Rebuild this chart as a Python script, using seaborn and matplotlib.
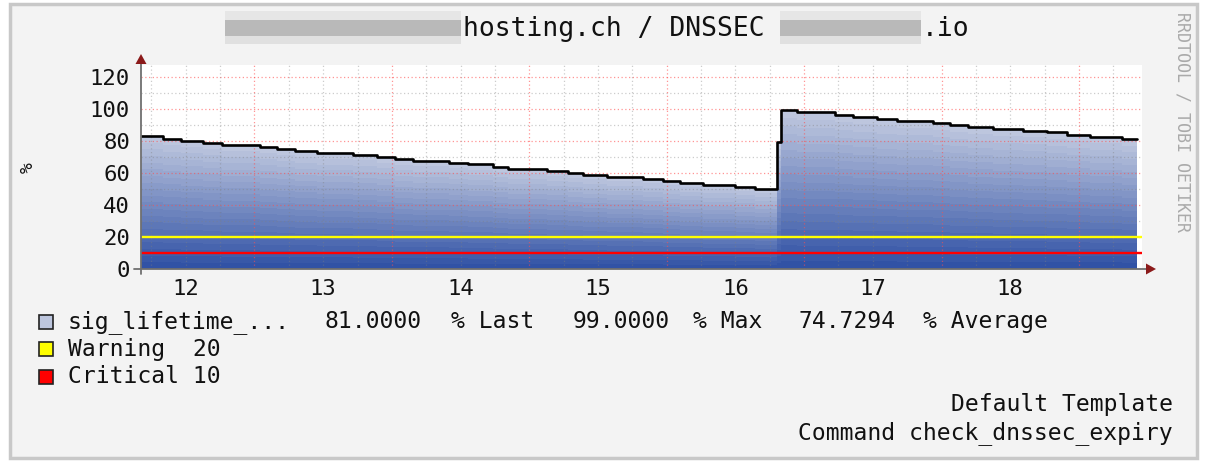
import numpy as np
import matplotlib
matplotlib.use("Agg")
import matplotlib.pyplot as plt
from matplotlib.colors import to_rgb
from matplotlib.patches import Rectangle, Polygon
from matplotlib.lines import Line2D
import seaborn as sns

# ---------------- data ----------------
step_times = [11.674, 11.834, 11.965, 12.123, 12.261, 12.540, 12.662, 12.795, 12.953,
              13.215, 13.389, 13.523, 13.656, 13.918, 14.054, 14.236, 14.345, 14.627,
              14.782, 14.891, 15.063, 15.330, 15.475, 15.597, 15.766, 15.997, 16.143,
              16.301, 16.332, 16.446, 16.725, 16.858, 17.028, 17.174, 17.440, 17.562,
              17.695, 17.877, 18.095, 18.266, 18.411, 18.581, 18.812]
end_time = 18.921
sig_lifetime = [83.0, 81.4, 80.1, 78.7, 77.6, 76.1, 74.9, 73.6, 72.4, 71.3, 69.9, 68.6,
                67.4, 66.4, 65.3, 63.8, 62.6, 61.3, 60.1, 58.8, 57.6, 56.3, 54.9, 53.7,
                52.4, 51.2, 50.1, 79.0, 99.0, 97.7, 96.4, 95.1, 93.9, 92.6, 91.4, 90.1,
                88.8, 87.6, 86.4, 85.2, 83.9, 82.6, 81.0]
warning_level = 20
critical_level = 10
x_tick_pos = [12, 13, 14, 15, 16, 17, 18]
x_tick_labels = ["12", "13", "14", "15", "16", "17", "18"]
y_tick_pos = [0, 20, 40, 60, 80, 100, 120]
legend_last = 81.0
legend_max = 99.0
legend_avg = 74.7294
series_label = "sig_lifetime_..."
title_main = "hosting.ch / DNSSEC"
title_tail = ".io"

# ---------------- figure ----------------
W, H = 1208, 470
sns.set_theme(style="white")
plt.rcParams["font.family"] = ["DejaVu Sans Mono"]
fig = plt.figure(figsize=(W / 100, H / 100), dpi=100, facecolor="white")


def fx(x):
    return x / W


def fy(y):
    return 1 - y / H


fig.patches.append(Rectangle((fx(10), fy(458)), fx(1197) - fx(10), fy(4) - fy(458),
                             transform=fig.transFigure, facecolor="#f3f3f3",
                             edgecolor="#c8c8c8", linewidth=2.5, zorder=-10))

ax = fig.add_axes([fx(141), fy(269), fx(1142) - fx(141), fy(65) - fy(269)])
ax.set_zorder(1)
ax.set_facecolor("white")
ax.set_xlim(11.674, 18.959)
ax.set_ylim(0, 127.3)

x_step = np.array(step_times + [end_time])
v_step = np.array(sig_lifetime + [sig_lifetime[-1]])

# gradient area (PNP style: stacked fractions of the value)
N = 20
c0 = np.array(to_rgb("#BDC6DE"))
c1 = np.array(to_rgb("#3152A5"))
for k in range(N):
    frac = (N - k) / N
    col = c0 + (c1 - c0) * k / (N - 1)
    ax.fill_between(x_step, 0, v_step * frac, step="post", color=col,
                    linewidth=0, zorder=1)

# grid
minor_col = (0.5, 0.5, 0.5, 0.4)
major_col = (1.0, 0.3, 0.3, 0.6)
dots = (0, (1, 2))
for v in np.arange(10, 130, 20):
    ax.axhline(v, color=minor_col, lw=0.9, ls=dots, zorder=2)
for v in y_tick_pos:
    ax.axhline(v, color=major_col, lw=0.9, ls=dots, zorder=2)
major_x = np.arange(12.5, 18.9, 1.0)
for v in np.arange(11.75, 18.96, 0.25):
    if abs((v - 0.5) % 1.0) > 1e-6:
        ax.axvline(v, color=minor_col, lw=0.9, ls=dots, zorder=2)
for v in major_x:
    ax.axvline(v, color=major_col, lw=0.9, ls=dots, zorder=2)

# thresholds
ax.axhline(warning_level, color="#FFFF00", lw=1.7, zorder=3)
ax.axhline(critical_level, color="#FF0000", lw=1.7, zorder=3)

# value line
sns.lineplot(x=x_step, y=v_step, ax=ax, drawstyle="steps-post", color="black",
             linewidth=1.9, estimator=None, sort=False, zorder=4)

for s in ax.spines.values():
    s.set_visible(False)
ax.set_xticks(x_tick_pos, x_tick_labels)
ax.set_xticks(major_x, minor=True)
ax.set_yticks(y_tick_pos, [str(v) for v in y_tick_pos])
ax.tick_params(axis="x", which="major", length=0, pad=7, labelsize=16, labelcolor="#111111")
ax.tick_params(axis="x", which="minor", length=3, width=1, color="#707070", direction="out")
ax.tick_params(axis="y", which="major", length=3, width=1, color="#707070",
               direction="out", pad=5, labelsize=16, labelcolor="#111111")
ax.set_xlabel("")
ax.set_ylabel("")

# axes lines and arrows
fig.lines.append(Line2D([fx(141), fx(141)], [fy(274), fy(60)], transform=fig.transFigure,
                        color="#707070", lw=1.3, zorder=5))
fig.lines.append(Line2D([fx(134), fx(1147)], [fy(269), fy(269)], transform=fig.transFigure,
                        color="#707070", lw=1.3, zorder=5))
fig.patches.append(Polygon([(fx(135.5), fy(64)), (fx(146.5), fy(64)), (fx(141), fy(54))],
                           closed=True, transform=fig.transFigure, facecolor="#8b1a1a",
                           edgecolor="none", zorder=6))
fig.patches.append(Polygon([(fx(1146), fy(263.5)), (fx(1146), fy(274.5)), (fx(1156), fy(269))],
                           closed=True, transform=fig.transFigure, facecolor="#8b1a1a",
                           edgecolor="none", zorder=6))

# title with blurred parts
for (x0, x1) in [(225, 461), (780, 921)]:
    for (y0, y1, c) in [(11, 20, "#e6e6e6"), (20, 36, "#b9b9b9"), (36, 44, "#e0e0e0")]:
        fig.patches.append(Rectangle((fx(x0), fy(y1)), fx(x1) - fx(x0), fy(y0) - fy(y1),
                                     transform=fig.transFigure, facecolor=c,
                                     edgecolor="none", zorder=-5))
fig.text(fx(463), fy(29), title_main, fontsize=19, ha="left", va="center", color="#111111")
fig.text(fx(922), fy(29), title_tail, fontsize=19, ha="left", va="center", color="#111111")

# watermark
fig.text(fx(1183), fy(12), "RRDTOOL / TOBI OETIKER", rotation=270, fontsize=12,
         ha="center", va="top", color="#aaaaaa")

# y unit
fig.text(fx(28), fy(168), "%", rotation=90, fontsize=13, ha="center", va="center",
         color="#111111")

# legend
legend_rows = [(321.7, "#BDC6DE"), (349.3, "#FFFF00"), (376.7, "#FF0000")]
for (yc, c) in legend_rows:
    fig.patches.append(Rectangle((fx(39), fy(yc + 7)), fx(14), fy(0) - fy(14),
                                 transform=fig.transFigure, facecolor=c,
                                 edgecolor="#222222", linewidth=1.2, zorder=2))
fs = 16.6
row1 = [(68, series_label), (325, "%.4f" % legend_last), (451, "% Last"),
        (573, "%.4f" % legend_max), (693, "% Max"),
        (798, "%.4f" % legend_avg), (923, "% Average")]
for (x, s) in row1:
    fig.text(fx(x), fy(321.7), s, fontsize=fs, ha="left", va="center", color="#111111")
fig.text(fx(68), fy(349.3), "Warning  %d" % warning_level, fontsize=fs, ha="left",
         va="center", color="#111111")
fig.text(fx(68), fy(376.7), "Critical %d" % critical_level, fontsize=fs, ha="left",
         va="center", color="#111111")
fig.text(fx(1173), fy(405), "Default Template", fontsize=fs, ha="right", va="center",
         color="#111111")
fig.text(fx(1173), fy(433), "Command check_dnssec_expiry", fontsize=fs, ha="right",
         va="center", color="#111111")

fig.savefig("out.png", dpi=100, facecolor="white")
